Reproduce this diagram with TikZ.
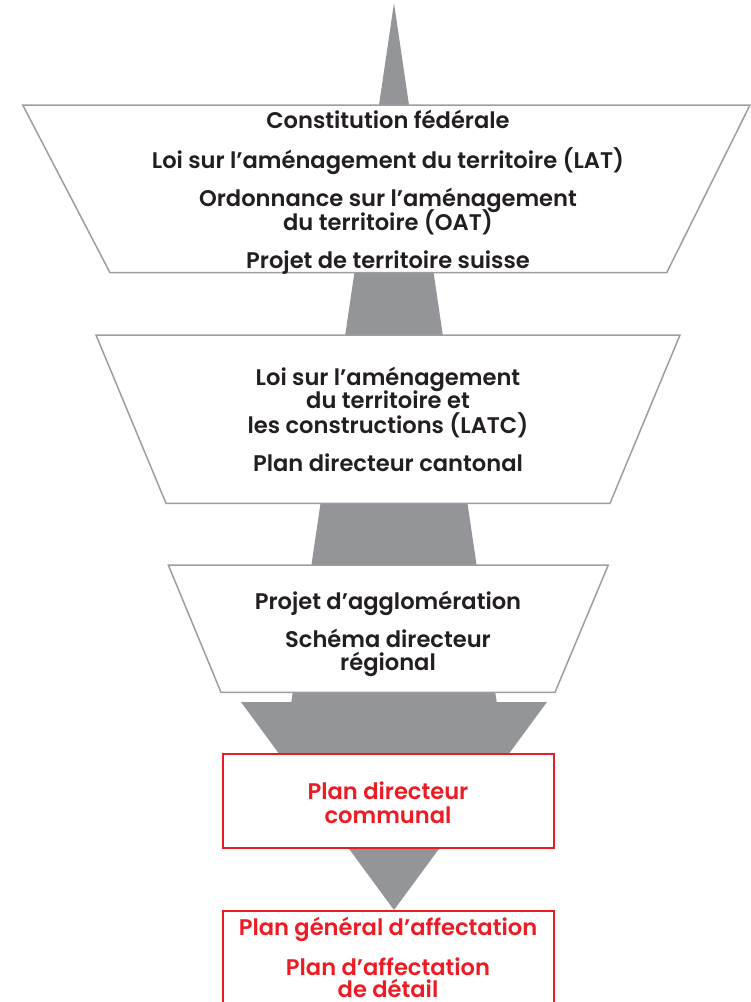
\documentclass[tikz,border=0pt]{standalone}
\usepackage{fontspec}
\setmainfont{Poppins}[UprightFont=* SemiBold]
\usepackage{tikz}
\tikzstyle{diagram} = [x = 1pt, y = -1pt]
\definecolor{arrowGray}{RGB}{147,149,152}
\definecolor{frameGray}{RGB}{158,158,161}
\definecolor{planRed}{RGB}{237,28,36}
\definecolor{textBlack}{RGB}{35,31,32}
\tikzstyle{levelStyle} = [draw=frameGray, fill=white, line width=1.5pt]
\tikzstyle{planStyle} = [draw=planRed, fill=white, line width=2pt]
\tikzstyle{levelText} = [font=\fontsize{22.6}{26}\selectfont, anchor=base, inner sep=0pt, text=textBlack]
\tikzstyle{planText} = [levelText, text=planRed]
\newcommand{\centerX}{388}
\newcommand{\levelTrapeze}[6]{\filldraw [levelStyle] (#3, #1) -- (#4, #1) -- (#6, #2) -- (#5, #2) -- cycle;}
\newcommand{\planBox}[2]{\filldraw [planStyle] (223, #1) rectangle (554, #2);}
\newcommand{\levelLine}[3]{\node [levelText] (#1) at (\centerX, #2) {#3};}
\newcommand{\planLine}[3]{\node [planText] (#1) at (\centerX, #2) {#3};}
\begin{document}
\begin{tikzpicture}[diagram]
  \useasboundingbox (0,0) rectangle (751,1002);
  % the big arrow, spike and head in one piece
  \fill [arrowGray] (394,3) -- (496.7,702) -- (547,702) -- (394,910)
    -- (241,702) -- (291.3,702) -- cycle;
  % federal level
  \levelTrapeze{105}{272.7}{22.7}{750}{110}{666.7}
  \levelLine{constitution}{128.3}{Constitution fédérale}
  \levelLine{lat}{168.3}{Loi sur l’aménagement du territoire (LAT)}
  \levelLine{oatA}{206}{Ordonnance sur l’aménagement}
  \levelLine{oatB}{230}{du territoire (OAT)}
  \levelLine{projetSuisse}{268}{Projet de territoire suisse}
  % cantonal level
  \levelTrapeze{335}{503.3}{96}{680}{166}{610}
  \levelLine{latcA}{385}{Loi sur l’aménagement}
  \levelLine{latcB}{408.5}{du territoire et}
  \levelLine{latcC}{433}{les constructions (LATC)}
  \levelLine{pdCantonal}{471.7}{Plan directeur cantonal}
  % regional level
  \levelTrapeze{565}{692.3}{168.3}{608.3}{221}{555}
  \levelLine{agglo}{609}{Projet d’agglomération}
  \levelLine{schemaA}{647}{Schéma directeur}
  \levelLine{schemaB}{670.7}{régional}
  % communal level
  \planBox{754}{848}
  \planLine{pdcA}{799}{Plan directeur}
  \planLine{pdcB}{823}{communal}
  \planBox{911}{1012}
  \planLine{pga}{935.7}{Plan général d’affectation}
  \planLine{padA}{975}{Plan d’affectation}
  \planLine{padB}{997}{de détail}
\end{tikzpicture}
\end{document}
